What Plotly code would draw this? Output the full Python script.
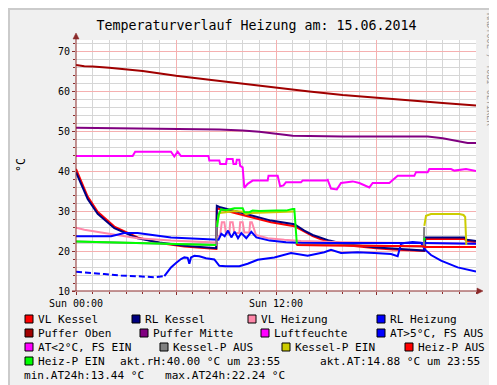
import plotly.graph_objects as go

# ---------------- data (hours since Sun 00:00, °C / %) ----------------
title_text = "Temperaturverlauf Heizung am: 15.06.2014"
x_tick_vals = [0, 6, 12, 18]
x_tick_text = ["Sun 00:00", "", "Sun 12:00", ""]
y_tick_vals = [10, 20, 30, 40, 50, 60, 70]

vl_kessel_t = [0, 0.3, 0.7, 1.3, 2.3, 3.7, 5.0, 6.5, 8.0, 8.42, 8.45, 8.6, 9.7, 11.7, 13.1, 13.7, 14.2,
               14.7, 15.2, 16.1, 17, 18, 19, 20, 20.85, 20.9, 20.95, 23.3, 23.45, 24]
vl_kessel_v = [40.5, 37.6, 33.6, 29.8, 26.1, 23.4, 22.0, 21.1, 20.6, 20.5, 30.6, 30.5, 29.3, 27.2, 26.2,
               24.8, 23.7, 22.9, 22.3, 21.5, 21.1, 20.7, 20.4, 20.1, 20.0, 20.0, 23.0, 23.0, 22.5, 22.2]

rl_kessel_t = [0, 0.3, 0.7, 1.3, 2.3, 3.7, 5.0, 6.5, 8.0, 8.42, 8.45, 8.6, 9.7, 11.7, 13.1, 13.7, 14.2,
               14.7, 15.2, 16.1, 17.0, 18.0, 19.0, 20.0, 20.85, 20.9, 20.95, 23.3, 23.45, 24]
rl_kessel_v = [39.7, 37.0, 33.0, 29.3, 25.7, 23.2, 22.1, 21.3, 20.8, 20.7, 31.3, 31.0, 29.8, 27.6, 26.7,
               25.1, 24.0, 23.2, 22.6, 21.75, 21.3, 20.9, 20.6, 20.3, 20.1, 20.1, 23.4, 23.4, 22.8, 22.5]

vl_heizung_t = [0, 0.5, 1.7, 3.7, 5.7, 8.1, 8.4, 8.5, 8.65, 8.75, 8.9, 9.0, 9.2, 9.25, 9.4, 9.5, 9.8,
                9.85, 10.0, 10.1, 10.4, 10.45, 10.55, 10.8, 11.5, 12.5, 13.5, 16, 20, 24]
vl_heizung_v = [25.8, 25.3, 24.5, 23.2, 22.6, 22.3, 22.1, 23.5, 24.0, 27.2, 27.2, 24.3, 24.3, 27.2, 27.2,
                24.5, 24.5, 27.2, 27.2, 24.6, 24.6, 27.2, 27.2, 24.0, 23.2, 22.8, 22.5, 22.2, 22.0, 21.8]

rl_heizung_t = [0, 1.7, 2.1, 2.9, 3.7, 5.7, 8.1, 8.4, 8.55, 8.72, 8.92, 9.12, 9.32, 9.52, 9.72, 9.92,
                10.22, 10.52, 10.82, 11.62, 12.6, 13.6, 16, 20.9, 24]
rl_heizung_v = [23.7, 23.7, 23.7, 24.5, 24.5, 23.4, 23.0, 22.9, 22.8, 24.3, 23.7, 25.1, 23.4, 24.8, 23.2,
                24.5, 23.2, 24.8, 23.4, 22.6, 22.2, 22.0, 22.0, 22.0, 21.8]

puffer_oben_t = [0, 0.5, 1, 2, 4, 6, 8, 10, 12, 14, 16, 18, 20, 22, 24]
puffer_oben_v = [66.5, 66.2, 66.1, 65.8, 65.0, 63.8, 62.8, 61.8, 60.8, 59.9, 59.0, 58.3, 57.6, 57.0, 56.4]

puffer_mitte_t = [0, 2, 4, 6, 8.6, 10, 11, 12, 13, 16, 20, 21.1, 22, 23, 23.5, 24]
puffer_mitte_v = [50.8, 50.7, 50.6, 50.5, 50.4, 50.1, 49.8, 49.3, 48.8, 48.6, 48.6, 48.6, 48.2, 47.5, 47.0, 47.0]

luftfeuchte_t = [0, 3.4, 3.55, 5.7, 5.9, 6.1, 6.3, 7.95, 8.0, 8.6, 8.65, 9.0, 9.05, 9.4, 9.45, 9.6, 9.65,
                 9.8, 9.85, 10.0, 10.1, 10.3, 10.6, 11.5, 11.55, 12.1, 12.25, 12.45, 12.6, 13.5, 13.6,
                 15.0, 15.1, 15.3, 15.65, 15.9, 16.6, 17.0, 17.6, 17.8, 18.8, 19.0, 19.3, 20.3, 20.4,
                 21.1, 21.2, 22.5, 22.7, 23.4, 24.0]
luftfeuchte_v = [43.75, 43.75, 44.8, 44.8, 43.6, 44.8, 43.75, 43.75, 42.6, 42.6, 41.75, 41.75, 43.0, 43.0,
                 41.75, 41.75, 42.8, 42.8, 41.3, 40.9, 35.8, 36.8, 37.6, 37.6, 38.8, 38.8, 36.2, 36.4,
                 37.2, 37.2, 37.6, 37.6, 37.8, 35.6, 35.4, 37.0, 37.4, 37.0, 35.9, 37.0, 37.0, 37.8,
                 38.8, 38.8, 39.7, 39.7, 40.5, 40.5, 40.1, 40.5, 40.0]

at_early_t = [0, 0.8, 1.7, 2.7, 3.7, 4.7, 5.3]
at_early_v = [14.8, 14.6, 14.25, 13.9, 13.7, 13.45, 13.7]

at_t = [5.3, 5.5, 5.7, 6.0, 6.3, 6.5, 6.7, 6.8, 6.9, 7.1, 7.4, 7.8, 8.1, 8.3, 8.6, 9.0, 9.8, 10.3, 10.9,
        11.9, 12.9, 13.9, 14.9, 15.3, 15.9, 16.9, 17.9, 18.9, 19.3, 19.5, 19.7, 20.2, 20.7, 20.9, 21.3,
        21.9, 22.9, 23.4, 24]
at_v = [13.7, 14.7, 15.9, 17.0, 18.0, 18.4, 18.3, 16.8, 18.4, 18.8, 18.7, 18.2, 18.0, 17.9, 16.3, 16.2,
        16.2, 16.8, 17.8, 18.4, 19.5, 18.8, 19.7, 20.3, 19.5, 19.7, 19.5, 19.25, 18.7, 21.75, 22.0,
        22.24, 22.1, 20.5, 19.0, 17.6, 15.9, 15.4, 14.88]

kessel_p_aus_t = [0, 4, 8.42, 8.44, None, 13.2, 17, 20.87, 20.89]
kessel_p_aus_v = [22.4, 22.0, 21.5, 27.0, None, 21.6, 21.3, 21.1, 26.0]

kessel_p_ein_t = [8.47, 8.6, 9.0, 9.5, 10.0, 10.2, 10.5, 11, 12, 13.0, 13.1, None,
                  20.9, 20.95, 21.0, 21.3, 22, 23, 23.25, 23.35, 23.42]
kessel_p_ein_v = [27.0, 29.5, 29.7, 30.0, 29.8, 29.2, 29.5, 29.6, 29.7, 29.9, 29.9, None,
                  26.3, 28.0, 28.8, 29.25, 29.3, 29.25, 29.0, 28.5, 21.5]

heiz_p_aus_t = [13.2, 13.3, 15, 17, 19, 20.85, 20.9, 24]
heiz_p_aus_v = [21.8, 21.5, 21.4, 21.3, 21.2, 21.2, 21.0, 21.0]

heiz_p_ein_t = [0, 2, 4, 6, 8.0, 8.4, None, 8.47, 8.55, 8.7, 9.0, 9.5, 10.0, 10.1, 10.4, 10.6, 11.0,
                12.0, 12.6, 13.0, 13.1, 13.25, None, 20.88, 20.93]
heiz_p_ein_v = [22.4, 22.2, 22.0, 21.8, 21.6, 21.5, None, 26.0, 29.0, 30.4, 30.2, 30.7, 30.7, 29.7,
                29.7, 30.1, 30.0, 30.1, 30.1, 30.5, 30.5, 21.8, None, 22.6, 23.3]

legend_rows = [
    [("VL Kessel", "#FF0000"), ("RL Kessel", "#000080"), ("VL Heizung", "#FF88AA"), ("RL Heizung", "#0000FF")],
    [("Puffer Oben", "#A00000"), ("Puffer Mitte", "#800080"), ("Luftfeuchte", "#FF00FF"), ("AT&gt;5°C, FS AUS", "#0000FF")],
    [("AT&lt;2°C, FS EIN", "#FF00FF"), ("Kessel-P AUS", "#808080"), ("Kessel-P EIN", "#CCCC00"), ("Heiz-P AUS", "#FF0000")],
    [("Heiz-P EIN", "#00FF00")],
]
info_row4 = ["akt.rH:40.00 °C um 23:55", "akt.AT:14.88 °C um 23:55"]
info_row5 = ["min.AT24h:13.44 °C", "max.AT24h:22.24 °C"]

# ---------------- layout geometry (pixels) ----------------
W, H = 497, 385
L, T, PW, PH = 68, 32, 400, 251
AXIS = "#8B2A2A"
MONO = "DejaVu Sans Mono"
LEG_FONT = 11.1


def px(x):
    return (x - L) / PW


def py(y):
    return (T + PH - y) / PH


fig = go.Figure()


def add_line(t, v, color, dash=None, width=2):
    fig.add_trace(go.Scatter(x=t, y=v, mode="lines", connectgaps=False,
                             line=dict(color=color, width=width, dash=dash),
                             showlegend=False, hoverinfo="skip"))


add_line(vl_kessel_t, vl_kessel_v, "#FF0000")
add_line(rl_kessel_t, rl_kessel_v, "#000080")
add_line(vl_heizung_t, vl_heizung_v, "#FF88AA")
add_line(rl_heizung_t, rl_heizung_v, "#0000FF")
add_line(puffer_oben_t, puffer_oben_v, "#A00000")
add_line(puffer_mitte_t, puffer_mitte_v, "#800080")
add_line(luftfeuchte_t, luftfeuchte_v, "#FF00FF")
add_line(at_early_t, at_early_v, "#0000FF", dash="6px,3px")
add_line(at_t, at_v, "#0000FF")
add_line(kessel_p_aus_t, kessel_p_aus_v, "#808080")
add_line(kessel_p_ein_t, kessel_p_ein_v, "#CCCC00")
add_line(heiz_p_aus_t, heiz_p_aus_v, "#FF0000")
add_line(heiz_p_ein_t, heiz_p_ein_v, "#00FF00")

shapes = []
# axis lines with arrows
shapes.append(dict(type="line", xref="paper", yref="paper", x0=px(L), x1=px(L), y0=py(T + PH), y1=py(28),
                   line=dict(color=AXIS, width=1)))
shapes.append(dict(type="line", xref="paper", yref="paper", x0=px(64), x1=px(471), y0=py(T + PH), y1=py(T + PH),
                   line=dict(color=AXIS, width=1)))
shapes.append(dict(type="path", xref="paper", yref="paper",
                   path=f"M {px(L-3)},{py(31)} L {px(L)},{py(25)} L {px(L+3)},{py(31)} Z",
                   fillcolor=AXIS, line=dict(color=AXIS, width=0.5)))
shapes.append(dict(type="path", xref="paper", yref="paper",
                   path=f"M {px(469)},{py(T+PH-3)} L {px(475)},{py(T+PH)} L {px(469)},{py(T+PH+3)} Z",
                   fillcolor=AXIS, line=dict(color=AXIS, width=0.5)))
# 3D frame
shapes.append(dict(type="line", xref="paper", yref="paper", x0=px(0), x1=px(W), y0=py(1), y1=py(1),
                   line=dict(color="#CBCBCB", width=2)))
shapes.append(dict(type="line", xref="paper", yref="paper", x0=px(1), x1=px(1), y0=py(0), y1=py(H),
                   line=dict(color="#CBCBCB", width=2)))
shapes.append(dict(type="line", xref="paper", yref="paper", x0=px(0), x1=px(W), y0=py(H - 1), y1=py(H - 1),
                   line=dict(color="#999999", width=2)))
shapes.append(dict(type="line", xref="paper", yref="paper", x0=px(W - 1), x1=px(W - 1), y0=py(0), y1=py(H),
                   line=dict(color="#999999", width=2)))

annotations = []
row_y = [311, 325, 339, 353, 367]
row_text_x = [[31, 138, 254, 383], [31, 146, 267, 383], [31, 166, 288, 411], [31]]


def add_text(txt, x, y):
    annotations.append(dict(text=txt, xref="paper", yref="paper", x=px(x - 3), y=py(y),
                            xanchor="left", yanchor="middle", showarrow=False,
                            font=dict(family=MONO, size=LEG_FONT, color="#000000")))


for r, items in enumerate(legend_rows):
    for c, (label, color) in enumerate(items):
        tx = row_text_x[r][c]
        yc = row_y[r]
        shapes.append(dict(type="rect", xref="paper", yref="paper",
                           x0=px(tx - 14), x1=px(tx - 6), y0=py(yc - 4), y1=py(yc + 4),
                           fillcolor=color, line=dict(color="#000000", width=1)))
        add_text(label, tx, yc)
for txt, tx in zip(info_row4, [113, 313]):
    add_text(txt, tx, row_y[3])
for txt, tx in zip(info_row5, [17, 158]):
    add_text(txt, tx, row_y[4])

# y-axis unit
annotations.append(dict(text="°C", xref="paper", yref="paper", x=px(13), y=py(157), textangle=-90,
                        xanchor="center", yanchor="middle", showarrow=False,
                        font=dict(family=MONO, size=11.5, color="#000000")))
# watermark (rotated, reading top to bottom)
annotations.append(dict(text="RRDTOOL / TOBI OETIKER", xref="paper", yref="paper", x=px(482), y=py(62),
                        textangle=90, xanchor="center", yanchor="middle", showarrow=False,
                        font=dict(family="DejaVu Sans Mono", size=8.5, color="#9A9A9A")))

fig.update_layout(
    width=W, height=H,
    margin=dict(l=L, r=W - L - PW, t=T, b=H - T - PH, pad=0),
    paper_bgcolor="#F0F0F0", plot_bgcolor="#FFFFFF",
    title=dict(text=title_text, x=0.5, xanchor="center", xref="container",
               y=1 - 17 / H, yanchor="middle", yref="container",
               font=dict(family=MONO, size=13.3, color="#000000")),
    showlegend=False,
    shapes=shapes, annotations=annotations,
    xaxis=dict(range=[0, 24], tickmode="array", tickvals=x_tick_vals, ticktext=x_tick_text,
               showgrid=True, gridcolor="#F5B0B0", gridwidth=1, zeroline=False, showline=False,
               ticks="outside", ticklen=3, tickcolor=AXIS,
               tickfont=dict(family=MONO, size=10, color="#000000"),
               minor=dict(tickmode="linear", tick0=0, dtick=1, showgrid=True, gridcolor="#D6D6D6",
                          ticks="outside", ticklen=2, tickcolor=AXIS),
               fixedrange=True),
    yaxis=dict(range=[10, 10 + PH / 4], tickmode="array", tickvals=y_tick_vals,
               showgrid=True, gridcolor="#F5B0B0", gridwidth=1, zeroline=False, showline=False,
               ticks="outside", ticklen=3, tickcolor=AXIS,
               tickfont=dict(family=MONO, size=10, color="#000000"),
               minor=dict(tickmode="linear", tick0=10, dtick=2, showgrid=True, gridcolor="#D6D6D6",
                          ticks="outside", ticklen=2, tickcolor=AXIS),
               fixedrange=True),
)

fig.write_html("out.html")
